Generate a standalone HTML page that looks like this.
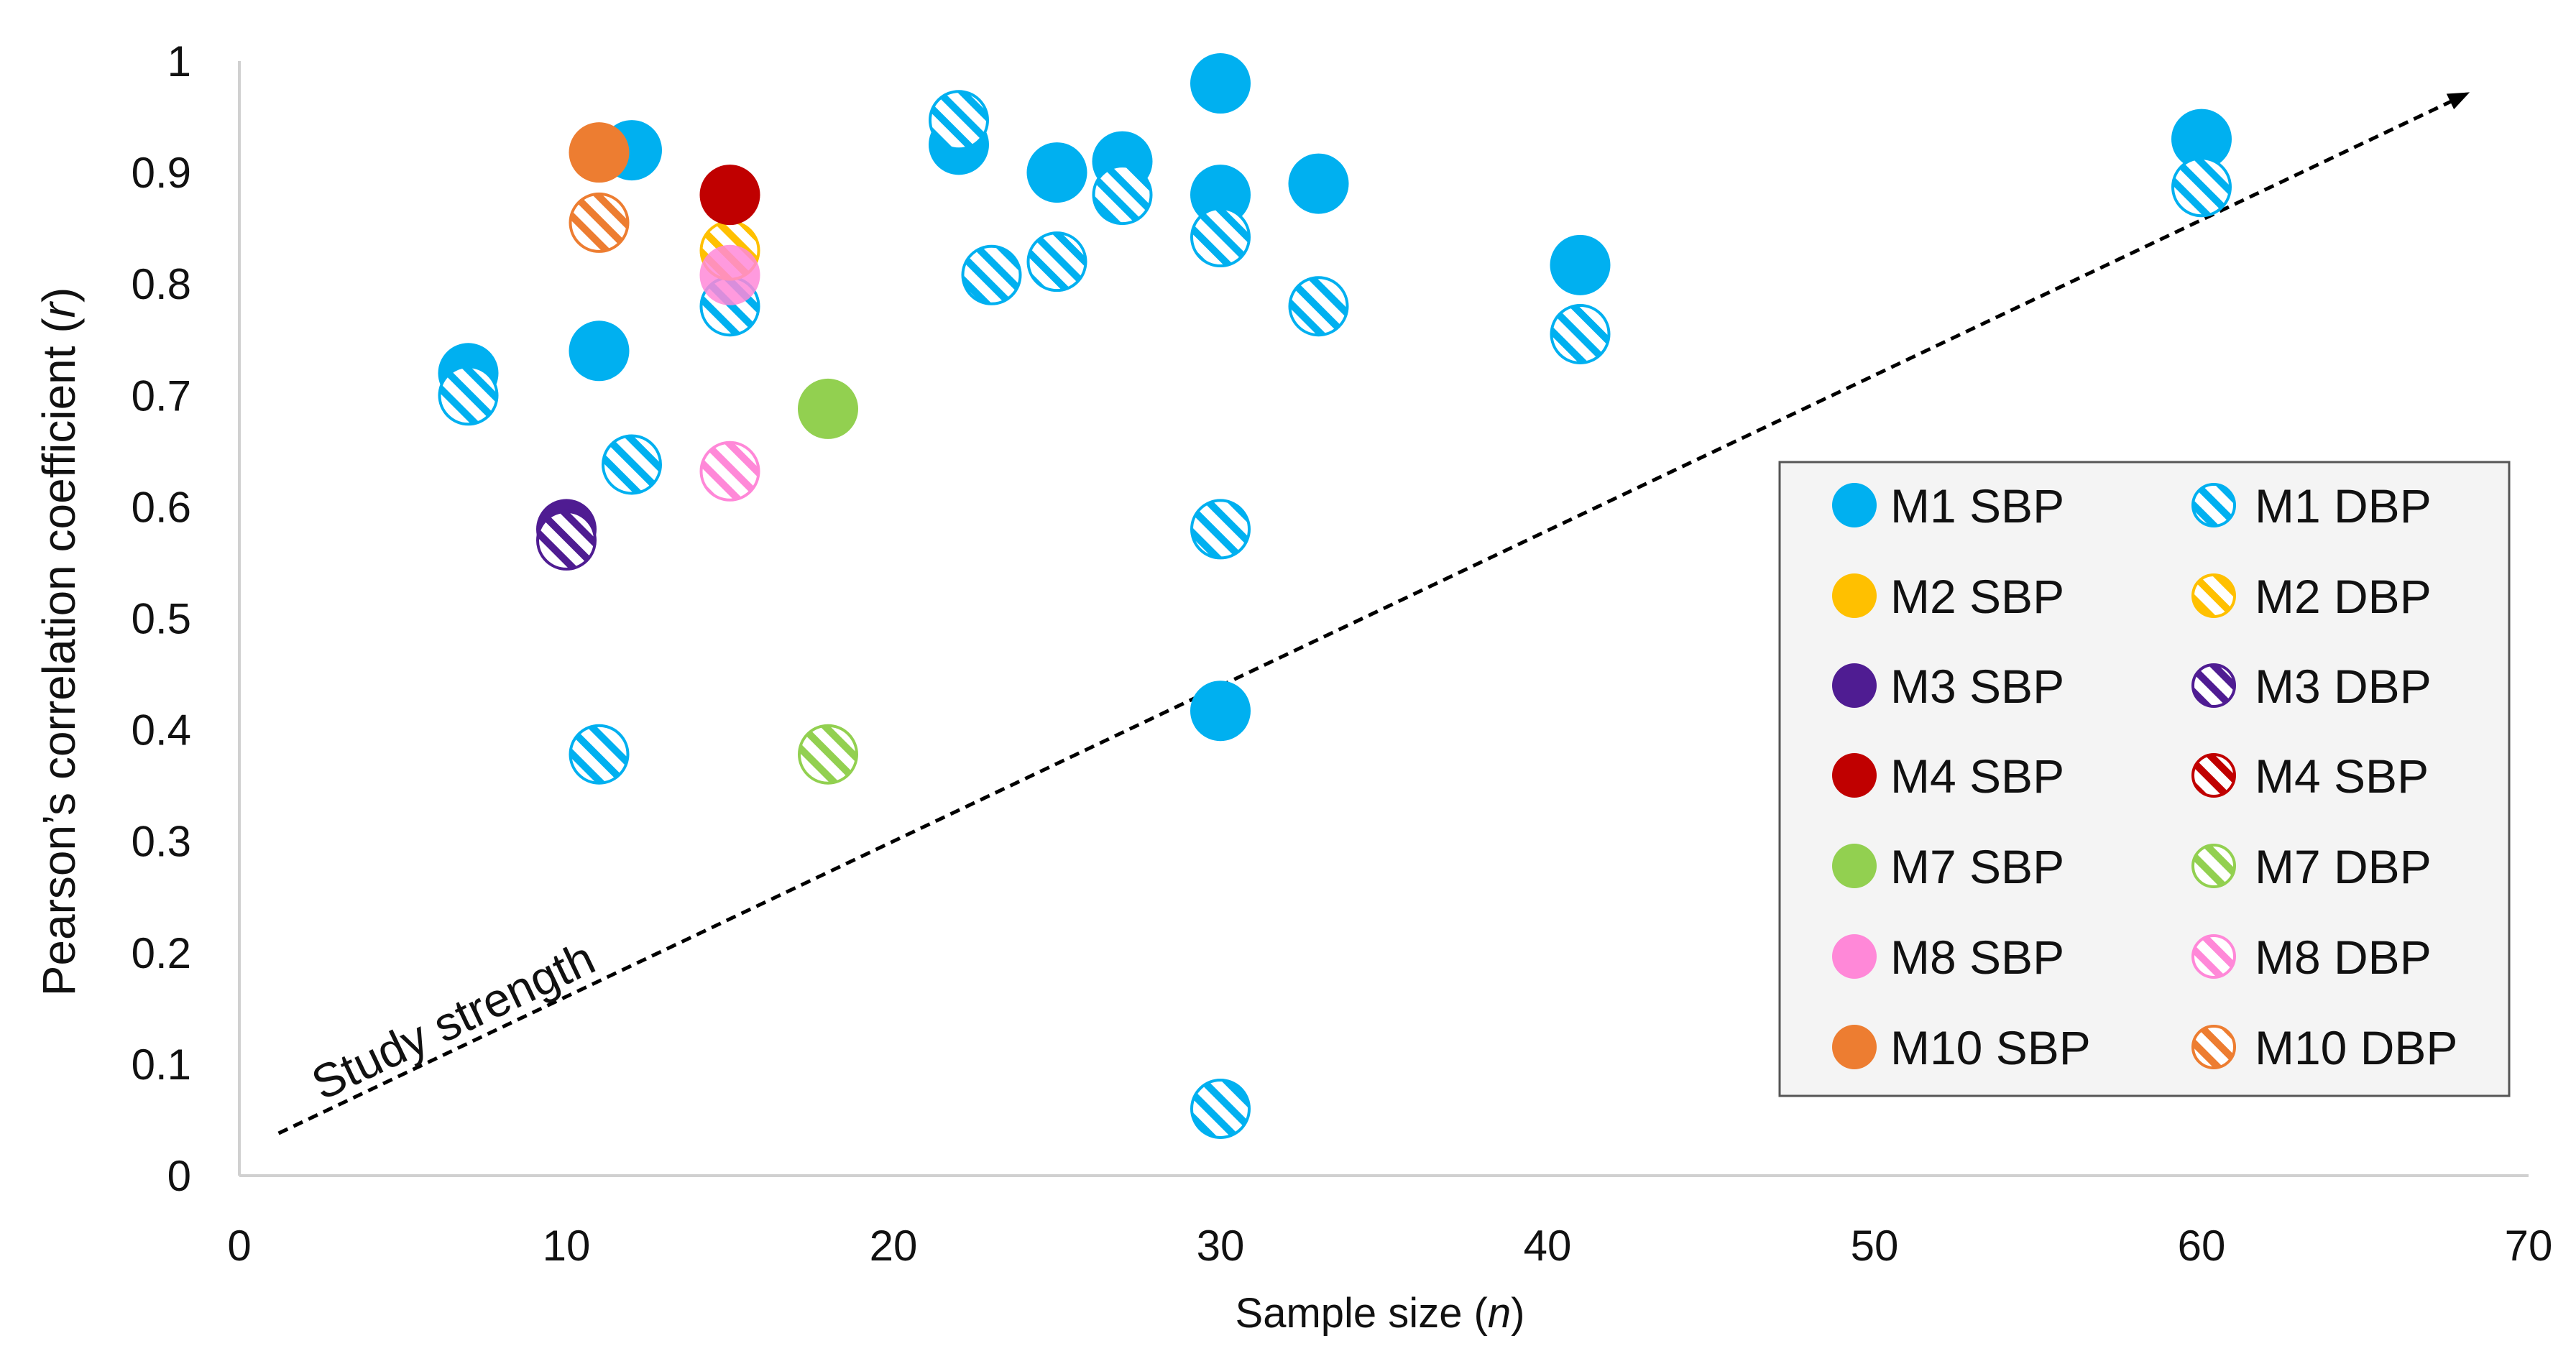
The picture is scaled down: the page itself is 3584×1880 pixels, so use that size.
<!DOCTYPE html>
<html><head><meta charset="utf-8"><style>
html,body{margin:0;padding:0;background:#fff;}
svg{display:block;font-family:"Liberation Sans",sans-serif;}
</style></head><body>
<svg id="chart" width="3584" height="1880" viewBox="0 0 3584 1880" xmlns="http://www.w3.org/2000/svg">
<defs id="defs"></defs>
<g id="axes"></g>
<g id="marks"></g>
<g id="legend"></g>
</svg>
<script>
const xTicks=[0,10,20,30,40,50,60,70];
const yTicks=[0,0.1,0.2,0.3,0.4,0.5,0.6,0.7,0.8,0.9,1];
const yTickLabels=["0","0.1","0.2","0.3","0.4","0.5","0.6","0.7","0.8","0.9","1"];
const seriesNames=["M1 SBP","M1 DBP","M2 SBP","M2 DBP","M3 SBP","M3 DBP","M4 SBP","M4 SBP","M7 SBP","M7 DBP","M8 SBP","M8 DBP","M10 SBP","M10 DBP"];
const seriesColors=["#00B0F0","#00B0F0","#FFC000","#FFC000","#4F1C92","#4F1C92","#C00000","#C00000","#92D050","#92D050","#FF88D8","#FF88D8","#ED7D31","#ED7D31"];
const seriesHatched=[false,true,false,true,false,true,false,true,false,true,false,true,false,true];
const m1sbpX=[7,11,12,22,25,27,30,30,33,41,60,30];
const m1sbpY=[0.72,0.74,0.92,0.925,0.90,0.91,0.98,0.88,0.89,0.817,0.93,0.417];
const m1dbpX=[7,11,12,15,22,23,25,27,30,30,30,33,41,60];
const m1dbpY=[0.70,0.378,0.638,0.78,0.947,0.808,0.82,0.88,0.842,0.58,0.06,0.78,0.755,0.887];
const m2dbpX=[15];const m2dbpY=[0.83];
const m3sbpX=[10];const m3sbpY=[0.58];
const m3dbpX=[10];const m3dbpY=[0.57];
const m4sbpX=[15];const m4sbpY=[0.88];
const m7sbpX=[18];const m7sbpY=[0.688];
const m7dbpX=[18];const m7dbpY=[0.378];
const m8sbpX=[15];const m8sbpY=[0.808];
const m8dbpX=[15];const m8dbpY=[0.632];
const m10sbpX=[11];const m10sbpY=[0.918];
const m10dbpX=[11];const m10dbpY=[0.855];
const trendX=[1.2,68.2];const trendY=[0.038,0.972];

const NS="http://www.w3.org/2000/svg";
const X0=333,XU=45.5,Y0=1636,YU=1551;
const sx=v=>X0+v*XU, sy=v=>Y0-v*YU;
function mk(tag,attrs,parent){const e=document.createElementNS(NS,tag);for(const k in attrs)e.setAttribute(k,attrs[k]);parent.appendChild(e);return e;}
const defs=document.getElementById('defs'),axes=document.getElementById('axes'),marks=document.getElementById('marks'),legend=document.getElementById('legend');

const uniq=[...new Set(seriesColors)];
uniq.forEach((c,i)=>{
  const p=mk('pattern',{id:'h'+i,patternUnits:'userSpaceOnUse',width:23,height:23,patternTransform:'rotate(-45)'},defs);
  mk('rect',{x:0,y:0,width:23,height:23,fill:'#fff'},p);
  mk('rect',{x:0,y:0,width:10,height:23,fill:c},p);
});
const pid=c=>'url(#h'+uniq.indexOf(c)+')';

// axes
const ya=mk('line',{x1:X0,y1:85,x2:X0,y2:Y0,stroke:'#d0d0d0','stroke-width':4},axes);

const xa=mk('line',{x1:X0,y1:Y0,x2:sx(70),y2:Y0,stroke:'#d0d0d0','stroke-width':4},axes);

xTicks.forEach(t=>{const e=mk('text',{x:sx(t),y:1754,'font-size':60,'text-anchor':'middle',fill:'#111'},axes);e.textContent=t;
});
yTicks.forEach((t,i)=>{const e=mk('text',{x:266,y:sy(t)+21,'font-size':60,'text-anchor':'end',fill:'#111'},axes);e.textContent=yTickLabels[i];
});
const xt=mk('text',{x:1920,y:1847,'font-size':58,'text-anchor':'middle',fill:'#111'},axes);
xt.innerHTML='Sample size (<tspan font-style="italic">n</tspan>)';

const yt=mk('text',{x:0,y:0,'font-size':64,'text-anchor':'middle',fill:'#111',transform:'translate(104,893) rotate(-90)'},axes);
yt.innerHTML='Pearson’s correlation coefficient (<tspan font-style="italic">r</tspan>)';


// trend line
const tx1=sx(trendX[0]),ty1=sy(trendY[0]),tx2=sx(trendX[1]),ty2=sy(trendY[1]);
const tl=mk('line',{x1:tx1,y1:ty1,x2:tx2-14,y2:ty2+7,stroke:'#000','stroke-width':5,'stroke-dasharray':'14 9'},axes);

const ang=Math.atan2(ty2-ty1,tx2-tx1);
const ah=mk('polygon',{points:`0,0 -30,-12 -30,12`,fill:'#000',transform:`translate(${tx2},${ty2}) rotate(${ang*180/Math.PI})`},axes);

const st=mk('text',{x:0,y:0,'font-size':66,fill:'#111',transform:`translate(448,1532) rotate(${ang*180/Math.PI})`},axes);
st.textContent='Study strength';


function dot(g,cx,cy,r,color,hatched,opacity){
  const c=mk('circle',{cx:cx,cy:cy,r:r},g);
  if(hatched){c.setAttribute('fill',pid(color));c.setAttribute('stroke',color);c.setAttribute('stroke-width',4);c.setAttribute('r',r-2);}
  else c.setAttribute('fill',color);
  if(opacity)c.setAttribute('fill-opacity',opacity);
  return c;
}
const plotSeries=[[0,m1sbpX,m1sbpY],[1,m1dbpX,m1dbpY],[3,m2dbpX,m2dbpY],[4,m3sbpX,m3sbpY],[5,m3dbpX,m3dbpY],[6,m4sbpX,m4sbpY],[8,m7sbpX,m7sbpY],[9,m7dbpX,m7dbpY],[11,m8dbpX,m8dbpY],[10,m8sbpX,m8sbpY],[12,m10sbpX,m10sbpY],[13,m10dbpX,m10dbpY]];
plotSeries.forEach(([si,xs,ys])=>{
  xs.forEach((x,i)=>{
    const c=dot(marks,sx(x),sy(ys[i]),42,seriesColors[si],seriesHatched[si],si===10?0.85:null);
    
    
  });
});

// legend
const lb=mk('rect',{x:2476,y:643,width:1015,height:882,fill:'#f4f4f4',stroke:'#555','stroke-width':3},legend);

const rowsY=[703,829,954,1079,1205,1331,1457];
seriesNames.forEach((n,i)=>{
  const col=i%2,row=Math.floor(i/2);
  const g=mk('g',{},legend);
  
  const mx=col?3080:2580, tx=col?3137:2630;
  dot(g,mx,rowsY[row],31,seriesColors[i],seriesHatched[i]);
  const t=mk('text',{x:tx,y:rowsY[row]+24,'font-size':66,fill:'#111'},g);
  t.textContent=n;
});
</script>
</body></html>
